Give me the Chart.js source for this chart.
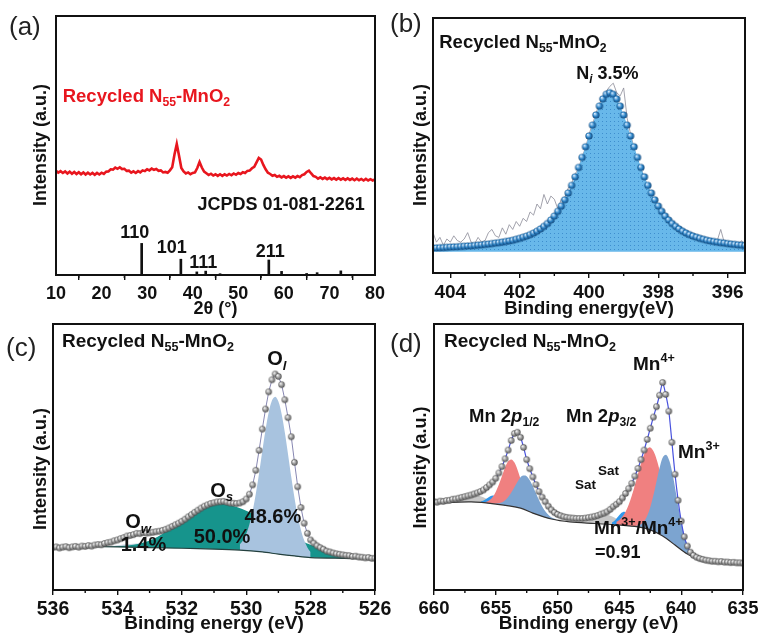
<!DOCTYPE html>
<html>
<head>
<meta charset="utf-8">
<title>Recycled N55-MnO2: XRD and XPS</title>
<script src="https://cdn.jsdelivr.net/npm/chart.js@4/dist/chart.umd.min.js"></script>
<style>
  html, body { margin: 0; padding: 0; background: #fff; }
  #fig { position: relative; width: 762px; height: 635px; overflow: hidden; }
  #fig canvas { position: absolute; }
</style>
</head>
<body>
<div id="fig">
  <canvas id="pa" width="400" height="320" style="left:0;top:0;width:400px;height:320px"></canvas>
  <canvas id="pb" width="381" height="320" style="left:381px;top:0;width:381px;height:320px"></canvas>
  <canvas id="pc" width="400" height="325" style="left:0;top:310px;width:400px;height:325px"></canvas>
  <canvas id="pd" width="381" height="325" style="left:381px;top:310px;width:381px;height:325px"></canvas>
</div>
<script>
const FONT = '"Liberation Sans", Arial, Helvetica, sans-serif';

// ---------------- (a) XRD pattern, 2θ from 10° in 0.5° steps ----------------
const xrdFrom = 10, xrdStep = 0.5;
const xrdIntensity = [
  40.3, 39.5, 40.1, 39.4, 40.0, 39.2, 39.9, 39.1, 39.8, 39.0,
  39.7, 38.9, 39.6, 38.8, 39.5, 38.8, 39.4, 38.7, 39.4, 38.8,
  39.5, 39.0, 39.9, 40.0, 40.8, 40.7, 41.5, 41.0, 41.6, 40.9,
  41.0, 40.2, 40.3, 39.5, 40.0, 39.4, 40.1, 39.6, 40.4, 40.1,
  40.8, 40.4, 41.1, 40.6, 40.9, 40.2, 40.4, 39.6, 39.8, 39.5,
  40.4, 41.6, 46.5, 50.6, 46.0, 41.3, 40.0, 39.2, 39.6, 38.9,
  39.4, 39.6, 41.3, 43.6, 41.5, 39.9, 39.3, 38.6, 39.1, 38.4,
  38.9, 38.3, 38.9, 38.3, 38.9, 38.4, 39.0, 38.5, 39.2, 38.7,
  39.4, 39.0, 39.7, 39.4, 40.2, 40.3, 41.2, 41.8, 43.5, 45.2,
  44.6, 42.5, 40.8, 39.5, 39.0, 38.3, 38.6, 37.9, 38.3, 37.7,
  38.2, 37.6, 38.1, 37.5, 38.1, 37.6, 38.2, 37.8, 38.6, 38.9,
  39.8, 40.3, 39.2, 38.2, 37.9, 37.2, 37.7, 37.1, 37.6, 37.0,
  37.5, 36.9, 37.4, 36.8, 37.4, 36.8, 37.3, 36.7, 37.3, 36.7,
  37.2, 36.6, 37.2, 36.6, 37.1, 36.5, 37.1, 36.5, 37.0, 36.5,
  36.9
];
// reference card JCPDS 01-081-2261 (stick positions and relative heights)
const pdfAngle  = [28.8, 37.4, 40.9, 42.85, 46.0, 56.7, 59.5, 65.0, 67.3, 72.5];
const pdfHeight = [12.2, 6.1, 1.2, 1.5, 0.5, 5.8, 1.4, 0.6, 0.9, 1.6];
const pdfIndex  = ['110', '101', '111', '211'];
const pdfIndexAt = [[27.3, 16.2], [35.4, 10.4], [42.3, 4.6], [57.0, 9.0]];
const xrdTicks = [10, 20, 30, 40, 50, 60, 70, 80];
const xrdMinor = [15, 25, 35, 45, 55, 65, 75];

// ---------------- (b) N 1s, from 404.5 eV down in 0.1 eV steps ----------------
const n1sFrom = 404.5, n1sStep = -0.1;
const n1sFit = [
  2.35, 2.4, 2.5, 2.6, 2.75, 2.9, 3.0, 3.1, 3.3, 3.4,
  3.6, 3.7, 3.9, 4.1, 4.3, 4.6, 4.8, 5.1, 5.4, 5.7,
  6.0, 6.4, 6.8, 7.2, 7.8, 8.4, 9.1, 9.8, 10.7, 11.7,
  12.9, 14.3, 15.9, 17.7, 19.9, 22.4, 25.4, 28.7, 32.6, 36.9,
  41.7, 47.1, 53.0, 59.3, 66.0, 72.8, 79.6, 86.0, 91.6, 96.1,
  99.0, 100, 99.0, 96.1, 91.6, 86.0, 79.6, 72.8, 66.0, 59.3,
  53.0, 47.1, 41.7, 36.9, 32.6, 28.7, 25.4, 22.4, 19.9, 17.7,
  15.9, 14.3, 12.9, 11.7, 10.7, 9.8, 9.1, 8.4, 7.8, 7.2,
  6.8, 6.4, 6.0, 5.7, 5.4, 5.1, 4.8, 4.6, 4.3, 4.1,
  3.9
];
const n1sRaw = [
  12, 6, 9, 4, 8, 6, 10, 7, 6, 8,
  12, 6, 5, 9, 6, 7, 12, 14, 10, 9,
  15, 11, 17, 14, 19, 16, 21, 19, 25, 23,
  30, 27, 36, 30, 35, 33, 27, 33, 34, 40,
  43, 49, 52, 60, 65, 74, 80, 87, 93, 97,
  101, 104, 106, 100, 98, 103, 84, 74, 65, 57,
  52, 47, 40, 37, 31, 29, 24, 23, 18, 18,
  15, 14, 13, 11, 12, 9, 10, 8, 9, 7,
  8, 6, 7, 14, 6, 5, 4, 6, 4, 7,
  4
];
const n1sTicks = [404, 402, 400, 398, 396];
const n1sMinor = [403, 401, 399, 397];

// ---------------- (c) O 1s ----------------
const o1sFrom = 536, o1sStep = -0.1;
const o1sData = [
  16.0, 16.2, 15.8, 16.1, 16.3, 15.9, 16.2, 16.4, 16.1, 16.5,
  16.4, 16.7, 16.5, 16.9, 17.1, 17.0, 17.5, 17.8, 18.0, 18.5,
  18.8, 19.3, 19.7, 20.3, 20.5, 20.8, 21.3, 21.2, 21.6, 21.4,
  21.5, 21.7, 21.9, 22.1, 22.4, 22.8, 23.3, 23.9, 24.5, 25.1,
  25.8, 26.6, 27.5, 28.3, 29.2, 30.0, 30.8, 31.5, 32.0, 32.5,
  32.8, 33.1, 33.2, 33.3, 33.0, 32.7, 32.6, 32.5, 32.7, 33.2,
  34.2, 36.0, 39.5, 45.0, 52.5, 60.5, 68.0, 74.5, 79.0, 81.2,
  80.3, 77.2, 71.5, 64.8, 57.6, 48.0, 38.8, 31.0, 25.1, 21.3,
  18.8, 17.6, 16.6, 15.9, 15.3, 14.6, 14.3, 13.9, 13.6, 13.4,
  13.2, 13.0, 12.9, 12.6, 12.7, 12.4, 12.3, 12.1, 12.2, 11.9,
  11.9
];
const o1sBgE = [536, 534, 532, 531, 530.2, 529.5, 529, 528.5, 528, 527, 526];
const o1sBg  = [16.5, 16.2, 15.7, 15.4, 15.0, 14.3, 13.5, 12.8, 12.2, 11.9, 11.7];
// fitted components (upper edge, background included)
const oSurfFrom = 534.5, oSurfStep = -0.25;
const oSurf = [
  16.33, 16.36, 16.46, 16.65, 17.02, 17.65, 18.64, 20.05, 21.9, 24.12,
  26.56, 28.94, 30.95, 32.28, 32.7, 32.43, 31.84, 30.99, 29.79, 28.38,
  26.83, 25.06, 23.26, 21.53, 19.87, 18.36, 16.97, 15.94, 14.7, 14.0,
  13.3, 12.7, 12.1
];
const oLattFrom = 530.2, oLattStep = -0.1;
const oLatt = [
  17.06, 18.6, 21.05, 24.7, 29.8, 36.3, 43.9, 52.2, 60.14, 66.78,
  71.22, 72.66, 70.9, 66.16, 59.22, 50.98, 42.44, 34.6, 27.88, 22.56,
  18.69, 16.02, 14.26
];
const oWaterFrom = 534.3, oWaterStep = -0.2;
const oWater = [16.44, 16.62, 16.88, 17.16, 17.38, 17.43, 17.28, 16.96, 16.58, 16.24, 15.98];
const o1sTicks = [536, 534, 532, 530, 528, 526];
const o1sMinor = [535, 533, 531, 529, 527];

// ---------------- (d) Mn 2p ----------------
const mnFrom = 660, mnStep = -0.25;
const mnData = [
  33.2, 33.0, 33.4, 33.3, 33.6, 33.7, 34.1, 34.2, 34.5, 34.8,
  35.1, 35.4, 35.7, 36.1, 36.5, 37.0, 37.6, 38.5, 39.5, 40.6,
  42.0, 44.0, 46.4, 49.3, 52.6, 56.2, 58.8, 59.3, 57.4, 53.6,
  49.0, 45.6, 42.5, 39.6, 37.0, 34.9, 33.2, 31.5, 30.1, 29.1,
  28.4, 27.9, 27.5, 27.3, 27.1, 27.0, 26.9, 26.9, 26.9, 27.0,
  27.2, 27.4, 27.7, 28.0, 28.5, 28.9, 29.4, 30.3, 31.3, 32.2,
  33.2, 34.6, 36.3, 38.1, 40.1, 42.8, 45.7, 49.0, 52.6, 56.6,
  60.8, 65.0, 68.9, 73.2, 78.0, 73.5, 67.2, 55.5, 43.5, 33.7,
  25.9, 20.0, 16.5, 14.2, 13.0, 12.3, 11.8, 11.5, 11.2, 11.0,
  10.8, 10.8, 10.6, 10.7, 10.5, 10.5, 10.3, 10.4, 10.2, 10.2,
  10.1
];
const mnBgE = [660, 657, 655, 653, 652, 650.5, 649, 647, 645, 643.5, 642.5, 641.5, 640.5, 639.5, 638.5, 637.5, 635];
const mnBg  = [32.7, 33.1, 32.3, 30.8, 28.9, 26.7, 25.6, 25.0, 24.4, 23.7, 22.6, 20.3, 16.9, 13.5, 11.3, 10.7, 10.3];
// Mn4+ components (2p1/2, 2p3/2)
const mn4LoFrom = 656.0;
const mn4Lo = [32.93, 33.18, 33.79, 34.98, 36.94, 39.62, 42.89, 46.08, 48.38, 49.1,
               47.98, 45.28, 41.74, 37.87, 34.54, 31.98, 30.19, 29.13, 28.43];
const mn4HiFrom = 645.25;
const mn4Hi = [25.57, 26.34, 27.59, 29.44, 32.07, 35.44, 39.35, 43.6, 47.6, 50.95,
               53.06, 53.6, 52.21, 49.25, 45.05, 40.2, 34.95, 30.5, 26.8, 23.8,
               21.4, 19.5, 17.7, 16.1, 14.7, 13.5, 12.6, 11.8];
// Mn3+ components
const mn3LoFrom = 655.1;
const mn3Lo = [32.51, 32.59, 32.81, 33.4, 34.41, 35.87, 37.75, 39.83, 41.75, 42.91,
               43.0, 41.96, 39.95, 37.43, 34.8, 32.32, 30.26, 28.75, 27.66, 26.99, 26.57];
const mn3HiFrom = 643.7;
const mn3Hi = [24.08, 24.3, 24.86, 26.15, 28.45, 32.0, 36.56, 41.82, 46.77, 50.15,
               50.78, 48.45, 43.57, 37.17, 30.5, 24.54, 19.79, 16.39, 14.3, 12.94, 12.0];
// minor components and shake-up satellites
const mnMinLoFrom = 656.2;
const mnMinLo = [33.23, 33.73, 34.5, 35.23, 35.48, 35.01, 34.01, 32.96, 32.19];
const mnMinHiFrom = 645.6;
const mnMinHi = [25.34, 26.26, 27.64, 28.96, 29.44, 28.75, 27.25, 25.67, 24.52];
const mnSatLoFrom = 659.3;
const mnSatLo = [32.98, 33.37, 33.98, 34.85, 35.51, 35.65, 35.31, 34.4, 33.43, 32.62, 31.98];
const mnSatHiFrom = 648;
const mnSatHi = [25.52, 25.89, 26.75, 27.79, 28.2, 27.49, 26.15, 24.94, 24.22];
const mnTicks = [660, 655, 650, 645, 640, 635];
const mnMinor = [657.5, 652.5, 647.5, 642.5, 637.5];

// ---------------- helpers ----------------
const series = (from, step, vals) => vals.map((y, i) => ({ x: +(from + i * step).toFixed(3), y }));
const pairs = (xs, ys) => xs.map((x, i) => ({ x, y: ys[i] }));

// draws a run of text pieces; style: '' | 'i' | 'sub' | 'sup' | 'isub'
function richText(ctx, segs, x, y, size, align, color) {
  const parts = segs.map(([t, s]) => {
    const small = s === 'sub' || s === 'sup' || s === 'isub';
    const fs = small ? size * 0.66 : size;
    const italic = s === 'i' || s === 'isub';
    const font = `${italic ? 'italic ' : ''}bold ${fs}px ${FONT}`;
    ctx.font = font;
    const w = ctx.measureText(t).width;
    const dy = (s === 'sub' || s === 'isub') ? size * 0.3 : (s === 'sup' ? -size * 0.36 : 0);
    return { t, font, w, dy };
  });
  const total = parts.reduce((a, p) => a + p.w, 0);
  let cx = align === 'center' ? x - total / 2 : (align === 'right' ? x - total : x);
  ctx.save();
  ctx.fillStyle = color;
  ctx.textAlign = 'left';
  ctx.textBaseline = 'middle';
  parts.forEach(p => { ctx.font = p.font; ctx.fillText(p.t, cx, y + p.dy); cx += p.w; });
  ctx.restore();
}

function sphere(r, light, mid, dark) {
  const c = document.createElement('canvas');
  const s = Math.ceil(r * 2) + 2;
  c.width = c.height = s;
  const g = c.getContext('2d');
  const m = s / 2;
  const grad = g.createRadialGradient(m - r * 0.35, m - r * 0.4, r * 0.1, m, m, r);
  grad.addColorStop(0, light);
  grad.addColorStop(0.55, mid);
  grad.addColorStop(1, dark);
  g.fillStyle = grad;
  g.beginPath(); g.arc(m, m, r, 0, Math.PI * 2); g.fill();
  return c;
}

function dotPattern() {
  const c = document.createElement('canvas');
  c.width = c.height = 4;
  const g = c.getContext('2d');
  g.fillStyle = 'rgb(104,184,234)'; g.fillRect(0, 0, 4, 4);
  g.fillStyle = 'rgb(62,142,206)'; g.fillRect(1, 1, 1, 1);
  return g.createPattern(c, 'repeat');
}

// frame, minor ticks, axis label, panel tag and annotations
function decor(o) {
  return {
    id: 'decor',
    afterDatasetsDraw(chart) {
      const { ctx, scales: { x, y } } = chart;
      o.notes.forEach(n => richText(ctx, n.segs, x.getPixelForValue(n.at[0]), y.getPixelForValue(n.at[1]),
        n.size, n.align || 'left', n.color || '#111'));
    },
    afterDraw(chart) {
      const { ctx, chartArea: a, scales: { x } } = chart;
      ctx.save();
      ctx.strokeStyle = '#111';
      ctx.lineWidth = 2;
      ctx.strokeRect(a.left, a.top, a.right - a.left, a.bottom - a.top);
      ctx.lineWidth = 1.4;
      ctx.beginPath();
      o.minor.forEach(v => {
        const px = x.getPixelForValue(v);
        ctx.moveTo(px, a.bottom); ctx.lineTo(px, a.bottom + 3);
      });
      ctx.stroke();
      ctx.translate(o.yTitle[0], o.yTitle[1]);
      ctx.rotate(-Math.PI / 2);
      ctx.font = `bold 18px ${FONT}`;
      ctx.fillStyle = '#111';
      ctx.textAlign = 'center';
      ctx.textBaseline = 'middle';
      ctx.fillText('Intensity (a.u.)', 0, 0);
      ctx.restore();
      ctx.save();
      ctx.font = `26px ${FONT}`;
      ctx.fillStyle = '#222';
      ctx.textBaseline = 'middle';
      ctx.fillText(o.tag[0], o.tag[1], o.tag[2]);
      ctx.restore();
    }
  };
}

function panel(id, o) {
  return new Chart(document.getElementById(id), {
    type: 'line',
    data: { datasets: o.datasets },
    options: {
      responsive: false,
      animation: false,
      devicePixelRatio: 1,
      events: [],
      layout: { padding: o.pad },
      plugins: { legend: { display: false }, tooltip: { enabled: false } },
      scales: {
        x: {
          type: 'linear',
          min: o.xmin, max: o.xmax, reverse: !!o.reverse,
          offset: false,
          afterBuildTicks: s => { s.ticks = o.ticks.map(v => ({ value: v })); },
          afterFit: s => { s.height = o.axisH; },
          ticks: {
            autoSkip: false, maxRotation: 0, padding: 3, color: '#111',
            font: { family: FONT, size: o.tickSize, weight: 'bold' },
            callback: v => String(v)
          },
          grid: { display: true, drawOnChartArea: false, drawTicks: true, tickLength: 5, color: '#111', lineWidth: 1.4 },
          border: { display: false },
          title: {
            display: true, text: o.xTitle, color: '#111', padding: { top: 0, bottom: 0 },
            font: { family: FONT, size: o.titleSize, weight: 'bold' }
          }
        },
        y: { display: false, min: o.ymin, max: o.ymax }
      }
    },
    plugins: [decor(o)]
  });
}

const recycled = [['Recycled N', ''], ['55', 'sub'], ['-MnO', ''], ['2', 'sub']];
const grayBall = sphere(3.2, '#f4f4f4', '#9a9a9a', '#4e4e4e');
const blueBall = sphere(3.6, '#d8ecff', '#2f86c8', '#10467a');
const area = (color, target, order) => ({ fill: target, backgroundColor: color, borderColor: 'rgba(0,0,0,0)', borderWidth: 0, pointRadius: 0, tension: 0.35, order });

// (a)
panel('pa', {
  xmin: 10, xmax: 80, ymin: 0, ymax: 100, ticks: xrdTicks, minor: xrdMinor,
  pad: { left: 56, right: 25, top: 16, bottom: 0 }, axisH: 45,
  tickSize: 18, titleSize: 18, xTitle: '2θ (°)',
  yTitle: [41.5, 145], tag: ['(a)', 9, 28],
  datasets: [
    { type: 'line', data: series(xrdFrom, xrdStep, xrdIntensity), borderColor: '#e8161e', borderWidth: 2.6, pointRadius: 0, tension: 0, order: 0 },
    { type: 'bar', data: pairs(pdfAngle, pdfHeight), backgroundColor: '#111', barThickness: 2, borderWidth: 0, order: 1 }
  ],
  notes: [
    { segs: recycled, at: [11.47, 68.8], size: 18.5, color: '#e8161e' },
    { segs: [['JCPDS 01-081-2261', '']], at: [59.4, 27.0], size: 18, align: 'center' },
    ...pdfIndex.map((t, i) => ({ segs: [[t, '']], at: pdfIndexAt[i], size: 18, align: 'center' }))
  ]
});

// (b)
panel('pb', {
  xmin: 395.5, xmax: 404.5, reverse: true, ymin: -13.4, ymax: 147, ticks: n1sTicks, minor: n1sMinor,
  pad: { left: 52, right: 17, top: 18, bottom: 0 }, axisH: 47,
  tickSize: 19, titleSize: 18.5, xTitle: 'Binding energy(eV)',
  yTitle: [40, 145], tag: ['(b)', 9, 25],
  datasets: [
    { data: series(n1sFrom, n1sStep, n1sFit), fill: { value: 0 }, backgroundColor: dotPattern(),
      borderColor: 'rgba(0,0,0,0)', borderWidth: 0, pointStyle: blueBall, pointRadius: 3.5, tension: 0.3, order: 0 },
    { data: series(n1sFrom, n1sStep, n1sRaw), borderColor: '#8c8c98', borderWidth: 0.8, pointRadius: 0, tension: 0, order: 1 }
  ],
  notes: [
    { segs: recycled, at: [404.32, 131.3], size: 18.5 },
    { segs: [['N', ''], ['i', 'isub'], [' 3.5%', '']], at: [399.47, 111.8], size: 18, align: 'center' }
  ]
});

// (c)
panel('pc', {
  xmin: 526, xmax: 536, reverse: true, ymin: 0, ymax: 100, ticks: o1sTicks, minor: o1sMinor,
  pad: { left: 53, right: 25, top: 14, bottom: 0 }, axisH: 45,
  tickSize: 19.5, titleSize: 19, xTitle: 'Binding energy (eV)',
  yTitle: [41, 159], tag: ['(c)', 6, 39],
  datasets: [
    { data: pairs(o1sBgE, o1sBg), borderColor: '#24403e', borderWidth: 1.2, pointRadius: 0, tension: 0.3, order: 1 },
    { data: series(oWaterFrom, oWaterStep, oWater), ...area('rgb(200,212,224)', 0, 4) },
    { data: series(oSurfFrom, oSurfStep, oSurf), ...area('rgb(22,148,140)', 0, 3) },
    { data: series(oLattFrom, oLattStep, oLatt), ...area('rgb(168,195,223)', 0, 2) },
    { data: series(o1sFrom, o1sStep, o1sData), borderColor: 'rgb(135,135,178)', borderWidth: 1,
      pointStyle: grayBall, pointRadius: 3, tension: 0, order: 0 }
  ],
  notes: [
    { segs: recycled, at: [535.72, 93.2], size: 19 },
    { segs: [['O', ''], ['l', 'isub']], at: [529.35, 86.5], size: 20 },
    { segs: [['O', ''], ['s', 'isub']], at: [531.12, 37.2], size: 20 },
    { segs: [['O', ''], ['w', 'isub']], at: [533.76, 25.2], size: 20 },
    { segs: [['48.6%', '']], at: [529.17, 27.4], size: 20, align: 'center' },
    { segs: [['50.0%', '']], at: [530.75, 19.9], size: 20, align: 'center' },
    { segs: [['1.4%', '']], at: [533.19, 16.9], size: 20, align: 'center' }
  ]
});

// (d)
panel('pd', {
  xmin: 635, xmax: 660, reverse: true, ymin: 0, ymax: 100, ticks: mnTicks, minor: mnMinor,
  pad: { left: 53, right: 19, top: 14, bottom: 0 }, axisH: 45,
  tickSize: 18.5, titleSize: 19, xTitle: 'Binding energy (eV)',
  yTitle: [40.5, 157.5], tag: ['(d)', 9, 35],
  datasets: [
    { data: pairs(mnBgE, mnBg), borderColor: '#333', borderWidth: 1.2, pointRadius: 0, tension: 0.3, order: 1 },
    { data: series(mnSatLoFrom, -0.5, mnSatLo), ...area('rgb(200,200,200)', 0, 6) },
    { data: series(mnSatHiFrom, -0.5, mnSatHi), ...area('rgb(200,200,200)', 0, 6) },
    { data: series(mnMinLoFrom, -0.25, mnMinLo), ...area('rgb(48,152,236)', 0, 5) },
    { data: series(mnMinHiFrom, -0.25, mnMinHi), ...area('rgb(48,152,236)', 0, 5) },
    { data: series(mn4LoFrom, -0.25, mn4Lo), ...area('rgb(240,128,128)', 0, 4) },
    { data: series(mn4HiFrom, -0.25, mn4Hi), ...area('rgb(240,128,128)', 0, 4) },
    { data: series(mn3LoFrom, -0.25, mn3Lo), ...area('rgb(124,164,208)', 0, 3) },
    { data: series(mn3HiFrom, -0.25, mn3Hi), ...area('rgb(124,164,208)', 0, 3) },
    { data: series(mnFrom, mnStep, mnData), borderColor: 'rgb(72,82,222)', borderWidth: 1.2,
      pointStyle: grayBall, pointRadius: 3, tension: 0.2, order: 0 }
  ],
  notes: [
    { segs: recycled, at: [659.19, 93.2], size: 19 },
    { segs: [['Mn', ''], ['4+', 'sup']], at: [643.9, 84.6], size: 19 },
    { segs: [['Mn 2', ''], ['p', 'i'], ['1/2', 'sub']], at: [657.17, 65.0], size: 18.5 },
    { segs: [['Mn 2', ''], ['p', 'i'], ['3/2', 'sub']], at: [649.32, 65.0], size: 18.5 },
    { segs: [['Mn', ''], ['3+', 'sup']], at: [640.26, 51.5], size: 19 },
    { segs: [['Sat', '']], at: [648.6, 39.5], size: 13.5 },
    { segs: [['Sat', '']], at: [646.73, 44.7], size: 13.5 },
    { segs: [['Mn', ''], ['3+', 'sup'], ['/Mn', ''], ['4+', 'sup']], at: [647.06, 22.9], size: 19 },
    { segs: [['=0.91', '']], at: [646.97, 13.9], size: 18 }
  ]
});
</script>
</body>
</html>
